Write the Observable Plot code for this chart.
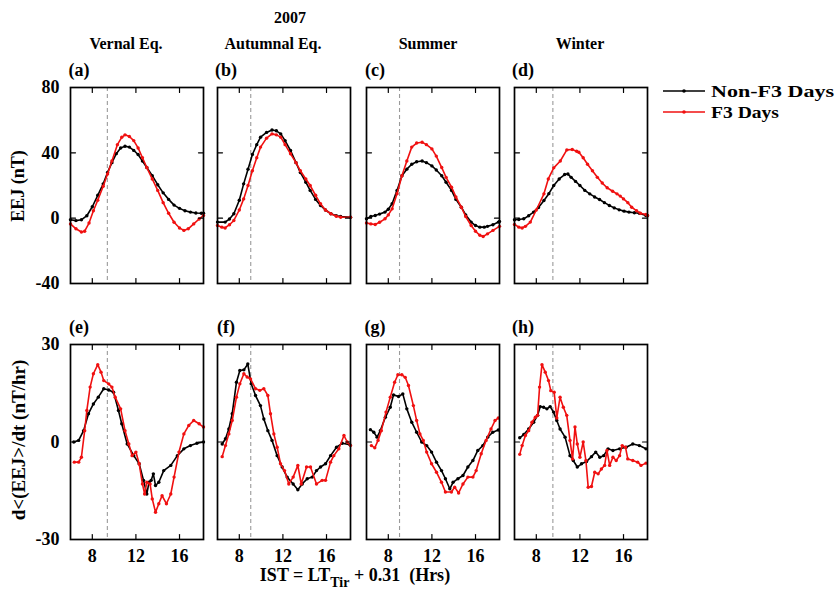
<!DOCTYPE html>
<html><head><meta charset="utf-8">
<script src="https://cdn.jsdelivr.net/npm/d3@7"></script>
<script src="https://cdn.jsdelivr.net/npm/@observablehq/plot@0.6"></script>
<style>
body{margin:0;background:#fff;}
#fig{position:relative;width:838px;height:594px;font-family:"Liberation Serif","Times New Roman",serif;font-weight:bold;color:#000;overflow:hidden;background:#fff}
.t{position:absolute;white-space:nowrap;font-size:16px;line-height:1}
.p{position:absolute}
.p svg{overflow:visible;background:transparent}
</style></head><body><div id="fig"></div>
<script>
// ---- categories / labels ----
const seasons = ["Vernal Eq.", "Autumnal Eq.", "Summer", "Winter"];
const panelLetters = ["(a)", "(b)", "(c)", "(d)", "(e)", "(f)", "(g)", "(h)"];
const seriesNames = ["Non-F3 Days", "F3 Days"];
const xTicks = [8, 12, 16];
const eejTicks = [-40, 0, 40, 80];
const dEejTicks = [-30, 0, 30];
const dashedHour = [9.38, 9.05, 9.03, 9.52];

// ---- EEJ (nT), [hour, value] ----
const vernalNonEEJ = [[6.0,-1],[6.5,-1.5],[7.0,-1],[7.5,1.5],[8.0,7],[8.5,14],[9.0,21],[9.4,28],[9.8,34],[10.2,39.5],[10.6,43],[11.0,44],[11.4,43.5],[11.8,41.5],[12.2,39],[12.6,35],[13.0,31],[13.5,26],[14.0,20.5],[14.5,15.5],[15.0,11.5],[15.5,8],[16.0,6],[16.5,4.5],[17.0,3.7],[17.5,3.2],[18.0,3],[18.2,3]];
const vernalF3EEJ = [[6.0,-3.5],[6.5,-6.5],[7.0,-8.5],[7.3,-8],[7.7,-3],[8.1,4.5],[8.5,11],[9.0,19.5],[9.4,27],[9.8,35],[10.3,45],[10.7,49.5],[11.0,51],[11.4,50],[11.8,47.5],[12.2,43],[12.6,37],[13.0,31],[13.5,24],[14.0,17],[14.5,9.5],[15.0,3],[15.5,-2.5],[16.0,-6],[16.4,-7.5],[16.8,-6.5],[17.3,-3.5],[17.8,-0.5],[18.2,1.6]];
const autumnNonEEJ = [[6.0,-2.4],[6.7,-2.4],[7.1,-0.5],[7.5,2.7],[8.0,11],[8.4,21],[8.8,30],[9.2,39],[9.6,45],[9.95,49.6],[10.5,52.5],[11.0,54],[11.4,53.5],[11.8,51.6],[12.2,47.5],[12.7,41.4],[13.2,34],[13.6,28],[14.1,22],[14.5,17],[15.0,11.5],[15.45,7.8],[15.9,5],[16.4,2.7],[16.9,1.5],[17.3,1],[18.2,0.6]];
const autumnF3EEJ = [[6.0,-4.5],[6.4,-5.5],[6.7,-6],[7.1,-4],[7.5,-1.4],[8.0,5],[8.4,11.8],[8.8,20],[9.2,29],[9.6,37],[9.95,43.5],[10.5,49],[11.0,51.6],[11.4,51],[11.8,49.6],[12.2,45],[12.7,39.4],[13.2,34],[13.6,29],[14.1,24],[14.5,20],[15.0,14],[15.45,8.8],[15.9,5],[16.4,2.7],[16.9,1.2],[17.3,0.6],[18.2,0.6]];
const summerNonEEJ = [[6.0,-0.4],[6.4,1],[6.8,1.6],[7.2,2.5],[7.7,3.7],[8.0,5.5],[8.35,8.8],[8.8,17],[9.25,26],[9.7,30],[10.15,33],[10.6,34.5],[11.1,35],[11.5,34],[12.0,32],[12.4,29.5],[12.9,26],[13.3,22],[13.8,17],[14.2,11.5],[14.7,6.7],[15.1,2],[15.6,-2.4],[16.0,-4.5],[16.4,-5.5],[16.8,-5.5],[17.1,-5],[17.6,-4],[18.1,-2.4],[18.2,-2]];
const summerF3EEJ = [[6.0,-3],[6.4,-3.5],[6.8,-3.9],[7.2,-2.5],[7.7,-0.4],[8.0,2],[8.35,5.7],[8.8,15],[9.25,26],[9.7,35],[10.15,43.5],[10.6,46],[11.1,46.5],[11.5,45],[12.0,42.4],[12.4,38],[12.9,31],[13.3,25],[13.8,19],[14.2,13],[14.7,6.7],[15.1,1],[15.6,-4.5],[16.0,-8],[16.4,-10.5],[16.7,-11.2],[17.1,-9.6],[17.6,-7.5],[18.2,-5]];
const winterNonEEJ = [[6.0,-1],[6.4,-0.8],[6.85,-0.4],[7.3,1.5],[7.75,3.7],[8.2,6.5],[8.7,10.8],[9.15,15],[9.6,20],[10.1,24],[10.6,26.7],[10.9,27],[11.2,25],[11.6,22.5],[12.0,20],[12.45,17],[12.9,14.9],[13.35,13],[13.8,11.4],[14.25,9.5],[14.7,7.8],[15.15,6.3],[15.6,5.1],[16.05,4.3],[16.5,3.7],[17.0,3.3],[17.45,3],[18.05,1.6],[18.2,1.5]];
const winterF3EEJ = [[6.0,-3.9],[6.4,-5.5],[6.7,-6],[7.0,-5],[7.45,-2.4],[8.0,5],[8.7,14.9],[9.1,24],[9.6,30.8],[10.2,35],[10.8,41.8],[11.3,42],[11.7,41],[11.9,40.4],[12.3,37],[12.7,33],[13.15,29],[13.6,25],[14.05,21.5],[14.5,18.6],[15.0,16.5],[15.4,14.9],[15.7,13.5],[16.0,11.8],[16.4,9.5],[16.75,6.7],[17.2,4.5],[17.55,3],[18.05,2.2],[18.2,1.6]];

// ---- d<EEJ>/dt (nT/hr), [hour, value] ----
const vernalNonDEEJ = [[6.3,0],[6.75,0.5],[7.2,3.5],[7.65,8.7],[8.1,11.7],[8.55,13.8],[9.05,16.4],[9.5,16],[9.95,15.3],[10.4,9.7],[10.7,5.6],[11.2,-0.6],[11.8,-4.2],[12.3,-6.7],[12.7,-11.8],[13.0,-16],[13.2,-12.4],[13.4,-11.8],[13.6,-9.8],[13.8,-13.4],[14.1,-12.4],[14.55,-8.8],[15.2,-7.2],[15.8,-4.2],[16.4,-2.1],[17.0,-1.1],[17.6,-0.4],[18.2,0]];
const vernalF3DEEJ = [[6.35,-6.2],[6.75,-6.2],[7.0,-4.7],[7.3,3.5],[7.5,9.7],[7.8,16.9],[8.1,21],[8.5,23.8],[8.8,21.5],[9.05,18.9],[9.5,17.9],[9.8,16.9],[10.1,13.8],[10.6,10.2],[11.0,3.5],[11.35,-0.6],[11.65,-4.2],[12.0,-3.1],[12.3,-6.7],[12.6,-12.9],[12.8,-16],[13.0,-12.4],[13.3,-12.9],[13.5,-17.5],[13.8,-21.6],[14.1,-19],[14.4,-16.5],[14.8,-19],[15.2,-16],[15.5,-10.8],[15.95,-3.1],[16.4,2.5],[16.85,5.1],[17.3,6.6],[17.8,5.6],[18.2,4.6]];
const autumnNonDEEJ = [[6.43,-0.6],[6.73,1],[7.04,4],[7.35,8.7],[7.74,18.4],[8.05,22],[8.42,22.2],[8.78,24],[9.09,17.9],[9.49,14.3],[9.94,11.2],[10.25,7.1],[10.62,3.5],[11.0,0.5],[11.47,-4.2],[11.93,-7.7],[12.39,-10.8],[12.94,-12.9],[13.37,-14.7],[13.77,-12.9],[14.23,-11.3],[14.69,-10.8],[15.08,-8.8],[15.45,-7.7],[15.91,-6.7],[16.37,-4.2],[16.92,-1.6],[17.44,-0.4],[18.14,-0.8]];
const autumnF3DEEJ = [[6.43,-4.5],[6.73,-1.1],[7.04,2.5],[7.35,6.6],[7.74,13.8],[8.05,17.9],[8.42,21],[8.72,20],[9.03,19.4],[9.49,16.4],[9.88,15.9],[10.25,16.4],[10.62,14.3],[10.86,8.7],[11.17,2.5],[11.47,-1.6],[11.78,-6.7],[12.15,-8.8],[12.54,-12.9],[12.94,-10.8],[13.37,-7.2],[13.68,-12.9],[14.17,-7.7],[14.53,-7.7],[15.08,-12.9],[15.6,-11.8],[15.91,-11.8],[16.37,-6.2],[16.67,-4.2],[17.13,-2.1],[17.6,2],[17.9,0],[18.2,-1.1]];
const summerNonDEEJ = [[6.36,3.8],[6.67,3],[6.97,1.5],[7.27,3.5],[7.73,7.6],[8.18,10.7],[8.48,14.5],[8.94,14],[9.33,14.8],[9.7,10.2],[10.15,6.1],[10.6,3],[11.06,0],[11.52,-1.1],[11.97,-3.1],[12.42,-6.2],[12.88,-8.8],[13.24,-11.3],[13.64,-14.4],[13.94,-12.4],[14.39,-11.3],[14.85,-10.3],[15.3,-7.7],[15.76,-5.7],[16.21,-2.6],[16.67,-1.1],[17.12,1.5],[17.58,3],[18.09,3.7]];
const summerF3DEEJ = [[6.45,-1.1],[6.76,-1.8],[7.06,0.5],[7.36,3.5],[7.79,9.2],[8.18,13.8],[8.58,18.4],[8.88,20.7],[9.24,20.7],[9.55,19.9],[9.85,17.4],[10.3,11.2],[10.6,6.6],[10.9,2.5],[11.21,0.5],[11.52,-3.1],[11.97,-6.7],[12.42,-9.3],[12.88,-12.4],[13.24,-15.4],[13.79,-15.4],[14.09,-13.9],[14.45,-15.7],[14.85,-12.9],[15.3,-10.8],[15.76,-10.8],[16.06,-8.8],[16.52,-3.6],[16.97,0.5],[17.42,4],[17.79,6.6],[18.09,7.4]];
const winterNonDEEJ = [[6.48,1.3],[6.85,2.3],[7.3,4],[7.76,6.1],[8.12,8.2],[8.36,10.9],[8.67,10.7],[8.97,10.2],[9.27,10.9],[9.58,9.2],[9.88,6.6],[10.18,4],[10.64,1.5],[11.09,-4.2],[11.39,-5.7],[11.76,-7.7],[12.15,-6.7],[12.61,-6],[13.06,-4.5],[13.45,-3.1],[13.82,-4.7],[14.18,-4.2],[14.58,-2.1],[15.03,-2.6],[15.64,-2.1],[16.24,-1.6],[16.85,-0.6],[17.45,-1.1],[18.06,-2.1]];
const winterF3DEEJ = [[6.48,-3.8],[6.7,-1.1],[7.0,2],[7.3,3.5],[7.6,6.1],[7.91,7.6],[8.12,8.2],[8.3,16.9],[8.52,23.8],[8.82,21.5],[9.12,18.9],[9.33,15.8],[9.64,15.3],[9.88,7.4],[10.18,13.8],[10.48,10.7],[10.79,8.2],[11.09,0.5],[11.33,-5.2],[11.55,4.6],[11.76,-0.6],[12.0,-4.7],[12.3,0],[12.55,-5.7],[12.76,-13.9],[13.06,-13.7],[13.36,-9.3],[13.67,-9.8],[13.97,-8.3],[14.27,-7.2],[14.48,-2.6],[14.73,-7.2],[15.03,-4.7],[15.33,-5.7],[15.64,-4.2],[15.88,-1.1],[16.18,-1.6],[16.39,-5.2],[16.85,-5.7],[17.3,-6.2],[17.6,-7.2],[18.06,-6.5]];

const eejNon = [vernalNonEEJ, autumnNonEEJ, summerNonEEJ, winterNonEEJ];
const eejF3 = [vernalF3EEJ, autumnF3EEJ, summerF3EEJ, winterF3EEJ];
const deejNon = [vernalNonDEEJ, autumnNonDEEJ, summerNonDEEJ, winterNonDEEJ];
const deejF3 = [vernalF3DEEJ, autumnF3DEEJ, summerF3DEEJ, winterF3DEEJ];

// ---- layout ----
const BLACK = "#000000", RED = "#f01010";
const colLeft = [70, 217, 366, 514];
const panelW = 133;
const rowTop = [87, 344];
const rowH = [196, 195];
const ML = 45, MR = 6, MT = 6, MB = 32;
const fig = document.getElementById("fig");
const plainNum = d => String(d);
// inward tick shape for Plot.vector
const tickShape = {draw(ctx, l) { ctx.moveTo(0, 0); ctx.lineTo(0, -l); }};
const TICK = 5;

function addText(html, x, y, opts = {}) {
  const d = document.createElement("div");
  d.className = "t";
  d.innerHTML = html;
  d.style.left = x + "px";
  d.style.top = y + "px";
  const rot = opts.rotate ? ` rotate(${opts.rotate}deg)` : "";
  d.style.transform = `translate(-50%,-50%)${rot}`;
  if (opts.size) d.style.fontSize = opts.size + "px";
  fig.appendChild(d);
  return d;
}

for (let row = 0; row < 2; row++) {
  for (let col = 0; col < 4; col++) {
    const nonData = row === 0 ? eejNon[col] : deejNon[col];
    const f3Data = row === 0 ? eejF3[col] : deejF3[col];
    const yDomain = row === 0 ? [-40, 80] : [-30, 30];
    const yTicks = row === 0 ? eejTicks : dEejTicks;
    const tk = {length: TICK, shape: tickShape, anchor: "start", stroke: BLACK, strokeWidth: 1.2};
    const marks = [
      Plot.ruleX([dashedHour[col]], {stroke: "#9a9a9a", strokeWidth: 1.1, strokeDasharray: "4,3"}),
      Plot.line(nonData, {x: d => d[0], y: d => d[1], stroke: BLACK, strokeWidth: 1.6}),
      Plot.dot(nonData, {x: d => d[0], y: d => d[1], fill: BLACK, r: 1.7}),
      Plot.line(f3Data, {x: d => d[0], y: d => d[1], stroke: RED, strokeWidth: 1.6}),
      Plot.dot(f3Data, {x: d => d[0], y: d => d[1], fill: RED, r: 1.7}),
      // inward ticks on all four sides
      Plot.vector(xTicks, {x: d => d, frameAnchor: "bottom", rotate: 0, ...tk}),
      Plot.vector(xTicks, {x: d => d, frameAnchor: "top", rotate: 180, ...tk}),
      Plot.vector(yTicks, {y: d => d, frameAnchor: "left", rotate: 90, ...tk}),
      Plot.vector(yTicks, {y: d => d, frameAnchor: "right", rotate: -90, ...tk}),
      Plot.frame({stroke: BLACK, strokeWidth: 1.7})
    ];
    marks.push(row === 1
      ? Plot.axisX({anchor: "bottom", ticks: xTicks, tickSize: 0, tickPadding: 10, tickFormat: plainNum, label: null, fontSize: 18, fontWeight: "bold"})
      : Plot.axisX({anchor: "bottom", ticks: xTicks, tickSize: 0, tickFormat: () => "", label: null}));
    marks.push(col === 0
      ? Plot.axisY({anchor: "left", ticks: yTicks, tickSize: 0, tickPadding: 11, tickFormat: plainNum, label: null, fontSize: 18, fontWeight: "bold"})
      : Plot.axisY({anchor: "left", ticks: yTicks, tickSize: 0, tickFormat: () => "", label: null}));
    const chart = Plot.plot({
      width: ML + panelW + MR,
      height: MT + rowH[row] + MB,
      marginLeft: ML, marginRight: MR, marginTop: MT, marginBottom: MB,
      x: {domain: [6, 18.2]},
      y: {domain: yDomain},
      style: {fontFamily: '"Liberation Serif", "Times New Roman", serif', fontSize: "18px", fontWeight: "bold", background: "transparent", color: "#000"},
      marks
    });
    const wrap = document.createElement("div");
    wrap.className = "p";
    wrap.style.left = (colLeft[col] - ML) + "px";
    wrap.style.top = (rowTop[row] - MT) + "px";
    wrap.appendChild(chart);
    fig.appendChild(wrap);
    addText(panelLetters[row * 4 + col], colLeft[col] + 9, rowTop[row] - 17, {size: 18});
  }
}

// titles
addText("2007", 290, 18);
const titleX = [126, 273, 428, 580];
seasons.forEach((s, i) => addText(s, titleX[i], 44));

// axis titles
addText("EEJ (nT)", 18, 186, {rotate: -90, size: 18});
addText("d&lt;(EEJ&gt;/dt (nT/hr)", 18, 440, {rotate: -90, size: 19});
addText('IST = LT<sub style="font-size:14px;vertical-align:-6px">Tir</sub> + 0.31&nbsp;&nbsp;(Hrs)', 355, 578, {size: 18});

// legend
const NS = "http://www.w3.org/2000/svg";
const leg = document.createElementNS(NS, "svg");
leg.setAttribute("width", 838); leg.setAttribute("height", 594);
leg.style.position = "absolute"; leg.style.left = "0"; leg.style.top = "0"; leg.style.pointerEvents = "none";
[[BLACK, 91, 123], [RED, 112, 68]].forEach(([c, y, len], i) => {
  const l = document.createElementNS(NS, "line");
  l.setAttribute("x1", 663); l.setAttribute("x2", 705); l.setAttribute("y1", y); l.setAttribute("y2", y);
  l.setAttribute("stroke", c); l.setAttribute("stroke-width", 1.6);
  leg.appendChild(l);
  const dt = document.createElementNS(NS, "circle");
  dt.setAttribute("cx", 684); dt.setAttribute("cy", y); dt.setAttribute("r", 1.8); dt.setAttribute("fill", c);
  leg.appendChild(dt);
  const t = document.createElementNS(NS, "text");
  t.setAttribute("x", 711); t.setAttribute("y", y + 6);
  t.setAttribute("font-family", '"Liberation Serif", serif'); t.setAttribute("font-weight", "bold"); t.setAttribute("font-size", 17);
  t.setAttribute("textLength", len); t.setAttribute("lengthAdjust", "spacingAndGlyphs");
  t.textContent = seriesNames[i];
  leg.appendChild(t);
});
fig.appendChild(leg);
</script>
</body></html>
